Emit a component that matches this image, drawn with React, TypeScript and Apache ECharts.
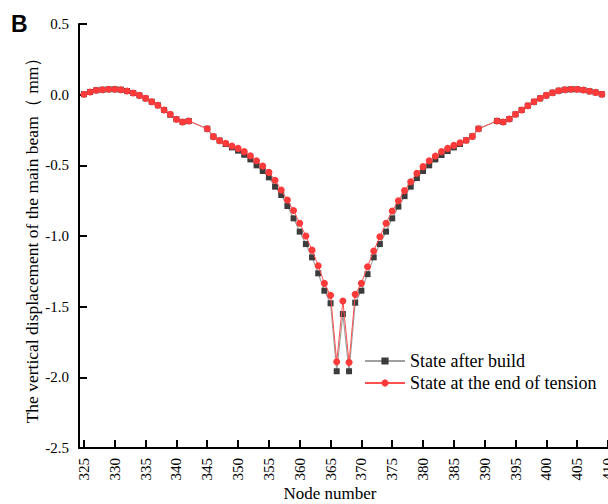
import React, { useEffect, useRef } from "react";
import * as echarts from "echarts";

const nodes = [
  325, 326, 327, 328, 329, 330, 331, 332, 333, 334, 335, 336, 337, 338, 339, 340, 341, 342,
  345, 346, 347, 348, 349, 350, 351, 352, 353, 354, 355, 356, 357, 358, 359, 360, 361, 362,
  363, 364, 365, 366, 367, 368, 369, 370, 371, 372, 373, 374, 375, 376, 377, 378, 379, 380,
  381, 382, 383, 384, 385, 386, 387, 388, 389,
  392, 393, 394, 395, 396, 397, 398, 399, 400, 401, 402, 403, 404, 405, 406, 407, 408, 409,
];

const afterBuild = [
  0.003, 0.019, 0.031, 0.035, 0.038, 0.038, 0.035, 0.026, 0.012, -0.005, -0.026, -0.05, -0.075, -0.108, -0.142, -0.174, -0.193, -0.186,
  -0.241, -0.297, -0.325, -0.349, -0.373, -0.396, -0.425, -0.458, -0.5, -0.54, -0.585, -0.651, -0.71, -0.788, -0.875, -0.969, -1.057, -1.151,
  -1.264, -1.387, -1.476, -1.957, -1.552, -1.957, -1.472, -1.387, -1.27, -1.151, -1.057, -0.969, -0.875, -0.792, -0.718, -0.651, -0.59, -0.54,
  -0.5, -0.458, -0.427, -0.399, -0.373, -0.349, -0.323, -0.295, -0.241,
  -0.186, -0.193, -0.172, -0.139, -0.108, -0.078, -0.05, -0.026, -0.005, 0.014, 0.028, 0.035, 0.038, 0.038, 0.033, 0.024, 0.016, 0.003,
];

const endOfTension = [
  0.003, 0.019, 0.031, 0.035, 0.038, 0.038, 0.035, 0.026, 0.012, -0.005, -0.026, -0.05, -0.075, -0.108, -0.139, -0.174, -0.193, -0.186,
  -0.241, -0.297, -0.325, -0.344, -0.363, -0.38, -0.403, -0.432, -0.467, -0.505, -0.55, -0.605, -0.675, -0.745, -0.82, -0.91, -1.0, -1.1,
  -1.21, -1.335, -1.42, -1.89, -1.46, -1.894, -1.413, -1.335, -1.217, -1.106, -1.005, -0.91, -0.823, -0.75, -0.679, -0.616, -0.556, -0.509,
  -0.467, -0.434, -0.403, -0.38, -0.359, -0.34, -0.323, -0.295, -0.241,
  -0.186, -0.193, -0.172, -0.139, -0.108, -0.078, -0.05, -0.026, -0.005, 0.014, 0.028, 0.035, 0.038, 0.038, 0.033, 0.024, 0.016, 0.003,
];

const seriesNames = ["State after build", "State at the end of tension"];
const xTitle = "Node number";
const yTitle = "The vertical displacement of the main beam（ mm）";
const panelLabel = "B";

const SERIF = "'Liberation Serif', 'Times New Roman', serif";

export default function App() {
  const ref = useRef<HTMLDivElement>(null);

  useEffect(() => {
    if (!ref.current) return;
    const chart = echarts.init(ref.current, undefined, { renderer: "svg" });
    const pair = (vals: number[]) => nodes.map((n, i) => [n, vals[i]]);
    chart.setOption({
      animation: false,
      backgroundColor: "#ffffff",
      title: {
        text: panelLabel,
        left: 11,
        top: 12,
        padding: 0,
        textStyle: {
          fontFamily: "'Liberation Sans', Arial, sans-serif",
          fontWeight: "bold",
          fontSize: 23,
          color: "#000",
        },
      },
      grid: { left: 79, right: 0, top: 24, bottom: 56, outerBoundsMode: "none", containLabel: false },
      legend: {
        orient: "vertical",
        left: 364,
        top: 352,
        padding: 0,
        itemGap: 4,
        itemWidth: 40,
        itemHeight: 9,
        textStyle: { fontFamily: SERIF, fontSize: 18, color: "#000" },
        data: seriesNames,
      },
      xAxis: {
        type: "value",
        min: 324.2,
        max: 410,
        minInterval: 5,
        maxInterval: 5,
        splitNumber: 17,
        name: xTitle,
        nameLocation: "middle",
        nameGap: 37,
        nameMoveOverlap: false,
        nameTextStyle: { fontFamily: SERIF, fontSize: 17, color: "#000", padding: [0, 27, 0, 0] },
        axisLine: { show: true, onZero: false, lineStyle: { color: "#000", width: 2 } },
        axisTick: { show: true, inside: true, length: 8, lineStyle: { color: "#000", width: 2 } },
        axisLabel: {
          rotate: 90,
          margin: 10,
          fontFamily: SERIF,
          fontSize: 15,
          color: "#000",
          formatter: (v: number) => (Math.abs(v - Math.round(v / 5) * 5) < 1e-6 ? String(Math.round(v)) : ""),
        },
        splitLine: { show: false },
      },
      yAxis: {
        type: "value",
        min: -2.5,
        max: 0.5,
        interval: 0.5,
        name: yTitle,
        nameLocation: "middle",
        nameGap: 38,
        nameMoveOverlap: false,
        nameTextStyle: { fontFamily: SERIF, fontSize: 17.5, color: "#000" },
        axisLine: { show: true, onZero: false, lineStyle: { color: "#000", width: 2 } },
        axisTick: { show: true, inside: true, length: 8, lineStyle: { color: "#000", width: 2 } },
        axisLabel: {
          margin: 10,
          fontFamily: SERIF,
          fontSize: 15,
          color: "#000",
          formatter: (v: number) => v.toFixed(1),
        },
        splitLine: { show: false },
      },
      series: [
        {
          name: seriesNames[0],
          type: "line",
          data: pair(afterBuild),
          symbol: "rect",
          symbolSize: 6,
          itemStyle: { color: "#3c3c3c" },
          lineStyle: { color: "#a0a0a0", width: 1.2 },
          z: 2,
        },
        {
          name: seriesNames[1],
          type: "line",
          data: pair(endOfTension),
          symbol: "circle",
          symbolSize: 7,
          itemStyle: { color: "#ff3a3a" },
          lineStyle: { color: "#ff5050", width: 1 },
          z: 3,
        },
      ],
    });
    return () => chart.dispose();
  }, []);

  return (
    <div
      ref={ref}
      style={{ position: "absolute", left: 0, top: 0, width: 608, height: 504, background: "#fff" }}
    />
  );
}
